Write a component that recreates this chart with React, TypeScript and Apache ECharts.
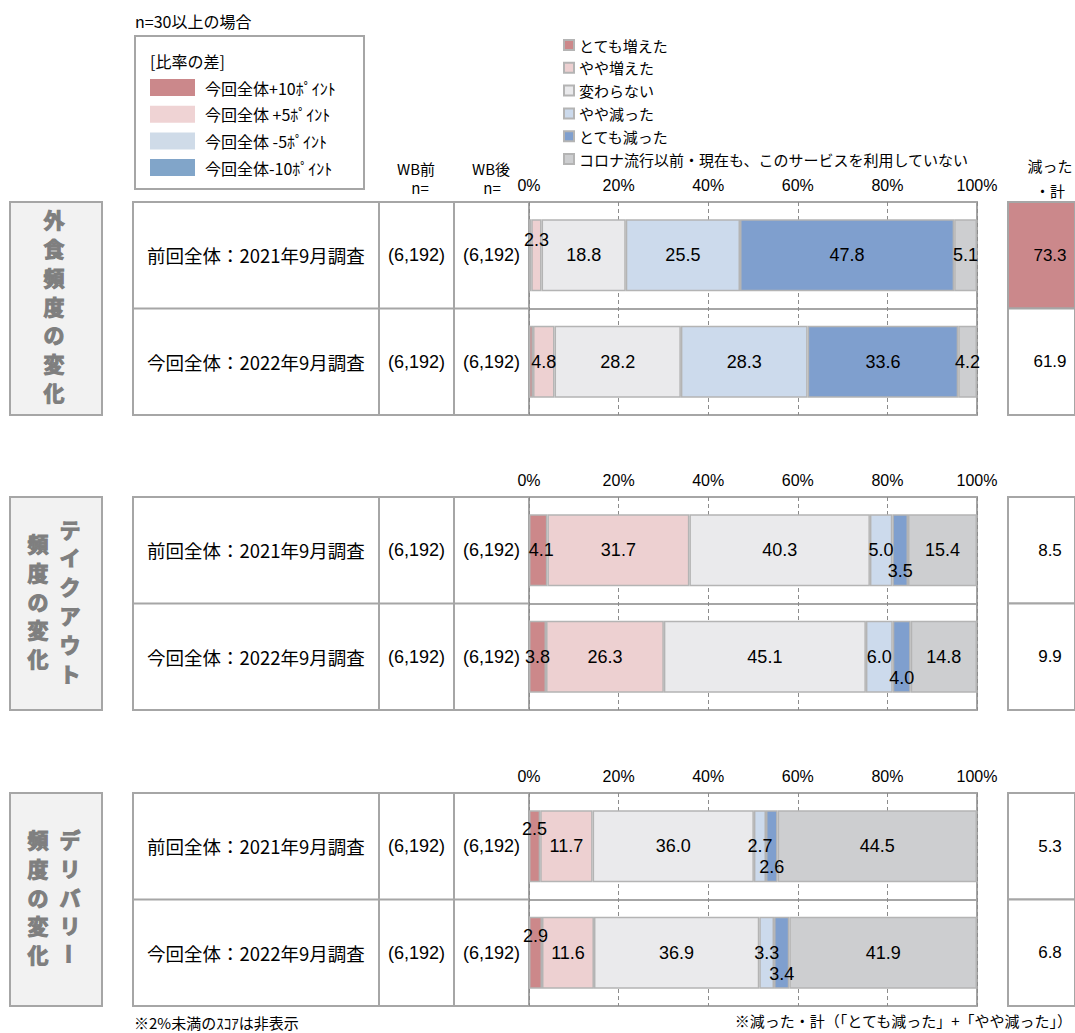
import React, { useEffect, useRef } from 'react';
import * as echarts from 'echarts';

// ---------- data ----------
const seriesNames = [
  'とても増えた',
  'やや増えた',
  '変わらない',
  'やや減った',
  'とても減った',
  'コロナ流行以前・現在も、このサービスを利用していない',
];
const rowLabels = ['前回全体：2021年9月調査', '今回全体：2022年9月調査'];
const groupTitles = [['外食頻度の変化'], ['テイクアウト', '頻度の変化'], ['デリバリー', '頻度の変化']];
const axisTicks = [0, 20, 40, 60, 80, 100];

// 外食
const eatOutVeryUp = [0.5, 0.9];
const eatOutSlightlyUp = [2.3, 4.8];
const eatOutSame = [18.8, 28.2];
const eatOutSlightlyDown = [25.5, 28.3];
const eatOutVeryDown = [47.8, 33.6];
const eatOutNonUser = [5.1, 4.2];
const eatOutDecreaseTotal = [73.3, 61.9];
const eatOutNBefore = [6192, 6192];
const eatOutNAfter = [6192, 6192];

// テイクアウト
const takeoutVeryUp = [4.1, 3.8];
const takeoutSlightlyUp = [31.7, 26.3];
const takeoutSame = [40.3, 45.1];
const takeoutSlightlyDown = [5.0, 6.0];
const takeoutVeryDown = [3.5, 4.0];
const takeoutNonUser = [15.4, 14.8];
const takeoutDecreaseTotal = [8.5, 9.9];
const takeoutNBefore = [6192, 6192];
const takeoutNAfter = [6192, 6192];

// デリバリー
const deliveryVeryUp = [2.5, 2.9];
const deliverySlightlyUp = [11.7, 11.6];
const deliverySame = [36.0, 36.9];
const deliverySlightlyDown = [2.7, 3.3];
const deliveryVeryDown = [2.6, 3.4];
const deliveryNonUser = [44.5, 41.9];
const deliveryDecreaseTotal = [5.3, 6.8];
const deliveryNBefore = [6192, 6192];
const deliveryNAfter = [6192, 6192];

const diffLegend = ['今回全体+10ﾎﾟｲﾝﾄ', '今回全体 +5ﾎﾟｲﾝﾄ', '今回全体 -5ﾎﾟｲﾝﾄ', '今回全体-10ﾎﾟｲﾝﾄ'];

// ---------- assembled ----------
const groups = [
  [eatOutVeryUp, eatOutSlightlyUp, eatOutSame, eatOutSlightlyDown, eatOutVeryDown, eatOutNonUser],
  [takeoutVeryUp, takeoutSlightlyUp, takeoutSame, takeoutSlightlyDown, takeoutVeryDown, takeoutNonUser],
  [deliveryVeryUp, deliverySlightlyUp, deliverySame, deliverySlightlyDown, deliveryVeryDown, deliveryNonUser],
];
const decreaseTotals = [eatOutDecreaseTotal, takeoutDecreaseTotal, deliveryDecreaseTotal];
const nBefore = [eatOutNBefore, takeoutNBefore, deliveryNBefore];
const nAfter = [eatOutNAfter, takeoutNAfter, deliveryNAfter];

// ---------- styles ----------
const JP = '"Noto Sans CJK JP", sans-serif';
const LAT = '"Liberation Sans", Arial, sans-serif';
const barColors = ['#CC888A', '#EDD0D1', '#EAEAEC', '#CCDAEC', '#7F9FCE', '#CDCED0'];
const diffColors = ['#CB888B', '#EFD3D4', '#CFDBE8', '#81A5C9'];
const borderGray = '#A6A6A6';
const groupTops = [202, 497, 793];
const groupH = 213;
const plotLeft = 529;
const plotWidth = 448;
const tableLeft = 133;
const colN1 = 379;
const colN2 = 454;
const rightLeft = 1008;
const rightWidth = 90;
const labelNudges: Record<string, number[]> = {
  '0-1-0': [0, -15],
  '1-0-0': [3, 0],
  '1-4-0': [0, 21],
  '1-4-1': [0, 21],
  '2-0-0': [0, -17],
  '2-0-1': [0, -17],
  '2-4-0': [0, 21],
  '2-4-1': [0, 21],
};

function cellColor(v: number, base: number) {
  const d = v - base;
  if (d >= 10) return diffColors[0];
  if (d >= 5) return diffColors[1];
  if (d <= -10) return diffColors[3];
  if (d <= -5) return diffColors[2];
  return '#FFFFFF';
}

function buildOption() {
  const grid: any[] = [];
  const xAxis: any[] = [];
  const yAxis: any[] = [];
  const series: any[] = [];
  const graphic: any[] = [];

  groupTops.forEach((top, g) => {
    grid.push({
      left: plotLeft, top, width: plotWidth, height: groupH,
      show: true, borderColor: borderGray, borderWidth: 2, backgroundColor: 'transparent',
    });
    xAxis.push({
      type: 'value', gridIndex: g, min: axisTicks[0], max: axisTicks[axisTicks.length - 1],
      interval: axisTicks[1] - axisTicks[0], position: 'top',
      axisLine: { show: false }, axisTick: { show: false },
      axisLabel: { formatter: '{value}%', fontSize: 16, color: '#000', fontFamily: LAT, margin: 9 },
      splitLine: { show: true, lineStyle: { type: [4, 3], color: '#8C8C8C', width: 1 } },
    });
    yAxis.push({
      type: 'category', gridIndex: g, data: rowLabels, inverse: true,
      axisLine: { show: false }, axisTick: { show: false },
      axisLabel: { show: true, interval: 0, align: 'left', margin: plotLeft - 147, fontSize: 18.5, color: '#000', fontFamily: JP },
      splitLine: { show: true, lineStyle: { color: borderGray, width: 2 } },
    });
  });
  groupTops.forEach((top, g) => {
    grid.push({ left: rightLeft, top, width: rightWidth, height: groupH, show: false });
    xAxis.push({ type: 'category', gridIndex: 3 + g, data: ['減った・計'], show: false });
    yAxis.push({ type: 'category', gridIndex: 3 + g, data: rowLabels, inverse: true, show: false });
  });

  groups.forEach((gData, g) => {
    gData.forEach((vals, s) => {
      series.push({
        type: 'bar', name: seriesNames[s], xAxisIndex: g, yAxisIndex: g, stack: 'g' + g,
        barWidth: 72,
        itemStyle: { color: barColors[s], borderColor: '#B4B4B4', borderWidth: 1.5 },
        label: {
          show: true, position: 'inside', fontSize: 18, color: '#000', fontFamily: LAT,
          formatter: (p: any) => Number(p.value).toFixed(1),
        },
        data: vals.map((v, r) => {
          const nudge = labelNudges[`${g}-${s}-${r}`];
          return { value: v, label: { show: v >= 2, offset: nudge || [0, 0] } };
        }),
      });
    });
    const totals = decreaseTotals[g];
    series.push({
      type: 'custom', name: '減った・計', xAxisIndex: 3 + g, yAxisIndex: 3 + g,
      data: totals.map((v, r) => [0, r, v]),
      renderItem: (params: any, api: any) => {
        const r = api.value(1);
        const v = api.value(2);
        const c = api.coord([0, r]);
        const sz = api.size([1, 1]);
        return {
          type: 'group',
          children: [
            {
              type: 'rect',
              shape: { x: c[0] - sz[0] / 2, y: c[1] - sz[1] / 2, width: sz[0], height: sz[1] },
              style: { fill: cellColor(v, totals[totals.length - 1]), stroke: borderGray, lineWidth: 2 },
            },
            {
              type: 'text', x: rightLeft + 42, y: c[1],
              style: { text: Number(v).toFixed(1), align: 'center', verticalAlign: 'middle', fill: '#000', font: `17px ${LAT}` },
            },
          ],
        };
      },
    });

    // table cells
    const top = groupTops[g];
    const mid = top + groupH / 2;
    graphic.push({
      type: 'rect', shape: { x: tableLeft, y: top, width: plotLeft - tableLeft, height: groupH },
      style: { fill: 'none', stroke: borderGray, lineWidth: 2 },
    });
    [colN1, colN2].forEach((x) =>
      graphic.push({ type: 'line', shape: { x1: x, y1: top, x2: x, y2: top + groupH }, style: { stroke: borderGray, lineWidth: 2 } })
    );
    graphic.push({ type: 'line', shape: { x1: tableLeft, y1: mid, x2: plotLeft, y2: mid }, style: { stroke: borderGray, lineWidth: 2 } });
    [0, 1].forEach((r) => {
      const cy = top + groupH / 4 + (r * groupH) / 2;
      graphic.push({
        type: 'text', x: (colN1 + colN2) / 2, y: cy,
        style: { text: `(${nBefore[g][r].toLocaleString('en-US')})`, align: 'center', verticalAlign: 'middle', fill: '#000', font: `18px ${LAT}` },
      });
      graphic.push({
        type: 'text', x: (colN2 + plotLeft) / 2, y: cy,
        style: { text: `(${nAfter[g][r].toLocaleString('en-US')})`, align: 'center', verticalAlign: 'middle', fill: '#000', font: `18px ${LAT}` },
      });
    });

    // left title box
    graphic.push({
      type: 'rect', shape: { x: 10, y: top, width: 92, height: groupH },
      style: { fill: '#F2F2F2', stroke: borderGray, lineWidth: 2 },
    });
    const cols = groupTitles[g];
    const colXs = cols.length === 1 ? [54] : [70, 38];
    cols.forEach((txt, ci) => {
      const chars = Array.from(txt);
      chars.forEach((ch, i) => {
        const y = mid - 3 + (i - (chars.length - 1) / 2) * 28.8;
        graphic.push({
          type: 'text', x: colXs[ci], y, rotation: ch === 'ー' ? -Math.PI / 2 : 0,
          style: {
            text: ch, align: 'center', verticalAlign: 'middle', fill: '#7F7F7F',
            stroke: '#7F7F7F', lineWidth: 1.1, font: `bold 21px ${JP}`,
          },
        });
      });
    });
  });

  // top-left diff legend
  graphic.push({ type: 'text', x: 135, y: 21, style: { text: 'n=30以上の場合', align: 'left', verticalAlign: 'middle', fill: '#000', font: `16px ${JP}` } });
  graphic.push({ type: 'rect', shape: { x: 135, y: 36, width: 229, height: 153 }, style: { fill: '#FFFFFF', stroke: borderGray, lineWidth: 2 } });
  graphic.push({ type: 'text', x: 150, y: 61, style: { text: '[比率の差]', align: 'left', verticalAlign: 'middle', fill: '#000', font: `16px ${JP}` } });
  diffLegend.forEach((t, i) => {
    const cy = 87.5 + i * 26.7;
    graphic.push({ type: 'rect', shape: { x: 150, y: cy - 8.5, width: 45, height: 17 }, style: { fill: diffColors[i] } });
    graphic.push({ type: 'text', x: 205, y: cy, style: { text: t, align: 'left', verticalAlign: 'middle', fill: '#000', font: `16px ${JP}` } });
  });

  // column headers
  graphic.push({ type: 'text', x: 416, y: 168, style: { text: 'WB前', align: 'center', verticalAlign: 'middle', fill: '#000', font: `15px ${JP}` } });
  graphic.push({ type: 'text', x: 420, y: 187, style: { text: 'n=', align: 'center', verticalAlign: 'middle', fill: '#000', font: `15px ${JP}` } });
  graphic.push({ type: 'text', x: 491, y: 168, style: { text: 'WB後', align: 'center', verticalAlign: 'middle', fill: '#000', font: `15px ${JP}` } });
  graphic.push({ type: 'text', x: 492, y: 187, style: { text: 'n=', align: 'center', verticalAlign: 'middle', fill: '#000', font: `15px ${JP}` } });
  graphic.push({ type: 'text', x: 1050, y: 165, style: { text: '減った', align: 'center', verticalAlign: 'middle', fill: '#000', font: `15px ${JP}` } });
  graphic.push({ type: 'text', x: 1050, y: 190, style: { text: '・計', align: 'center', verticalAlign: 'middle', fill: '#000', font: `15px ${JP}` } });

  // footnotes
  graphic.push({ type: 'text', x: 134, y: 1022, style: { text: '※2%未満のｽｺｱは非表示', align: 'left', verticalAlign: 'middle', fill: '#000', font: `15px ${JP}` } });
  graphic.push({ type: 'text', x: 1072, y: 1020, style: { text: '※減った・計（「とても減った」+「やや減った」）', align: 'right', verticalAlign: 'middle', fill: '#000', font: `15px ${JP}` } });

  return {
    animation: false,
    backgroundColor: '#FFFFFF',
    textStyle: { fontFamily: JP },
    legend: {
      orient: 'vertical', left: 558, top: 31, itemWidth: 10, itemHeight: 10, itemGap: 4.8,
      icon: 'rect', selectedMode: false, data: seriesNames,
      textStyle: { fontSize: 15, lineHeight: 18, color: '#000', fontFamily: JP },
    },
    grid, xAxis, yAxis, series, graphic,
  };
}

export default function App() {
  const ref = useRef<HTMLDivElement>(null);
  useEffect(() => {
    document.body.style.margin = '0';
    const chart = echarts.init(ref.current!, null, { renderer: 'svg' });
    chart.setOption(buildOption() as any);
    return () => chart.dispose();
  }, []);
  return <div ref={ref} style={{ width: 1075, height: 1033, position: 'absolute', left: 0, top: 0 }} />;
}
